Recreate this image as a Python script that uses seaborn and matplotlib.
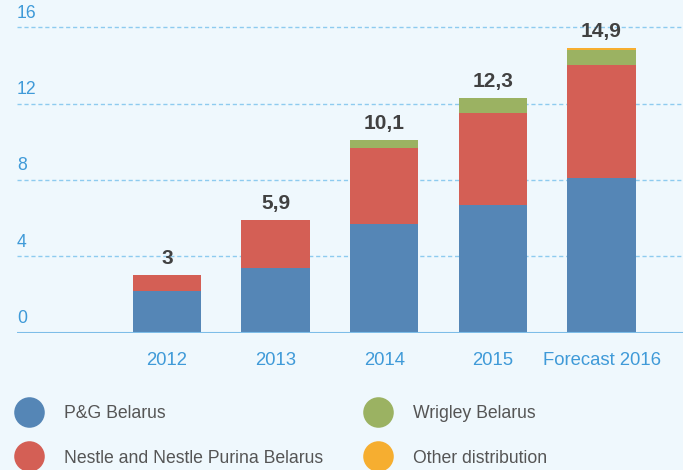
import numpy as np
import pandas as pd
import seaborn as sns
import matplotlib.pyplot as plt
from matplotlib.lines import Line2D

# данные (млрд руб.)
years = ['2012', '2013', '2014', '2015', 'Forecast 2016']
pg = [2.2, 3.4, 5.7, 6.7, 8.1]
nestle = [0.8, 2.5, 3.95, 4.8, 5.9]
wrigley = [0.0, 0.0, 0.45, 0.8, 0.8]
other = [0.0, 0.0, 0.0, 0.0, 0.1]
totals = ['3', '5,9', '10,1', '12,3', '14,9']
yticks = [0, 4, 8, 12, 16]

names = ['P&G Belarus', 'Nestle and Nestle Purina Belarus', 'Wrigley Belarus', 'Other distribution']
colors = ['#5586b6', '#d45f55', '#9bb262', '#f6ae30']

BG = '#eff8fd'
TICK_C = '#3f9ad8'
GRID_C = '#8ecbef'

sns.set_style('white')
plt.rcParams['font.family'] = ['Liberation Sans', 'DejaVu Sans']

df = pd.DataFrame({'year': years, 'pg': pg, 'nestle': nestle, 'wrigley': wrigley, 'other': other})
layers = ['pg', 'nestle', 'wrigley', 'other']
cum = df[layers].cumsum(axis=1)

fig = plt.figure(figsize=(6.83, 4.70), dpi=100, facecolor=BG)
ax = fig.add_axes([17 / 683, 137.5 / 470, 666 / 683, 332.5 / 470])
ax.set_facecolor(BG)

# рисуем накопленные суммы сверху вниз, чтобы получить стек
for layer, col in reversed(list(zip(layers, colors))):
    sns.barplot(x=df['year'], y=cum[layer], order=years, color=col, saturation=1,
                width=0.63, linewidth=0, errorbar=None, ax=ax, zorder=3)

ax.set_xlim(-1.38, 4.75)
ax.set_ylim(0, 17.43)

# сетка
for v in yticks[1:]:
    ax.axhline(v, color=GRID_C, lw=1, ls=(0, (3, 2)), zorder=1)
ax.axhline(0, color='#7dbde8', lw=1.5, zorder=4)

ax.set_yticks([])
for v in yticks:
    ax.annotate(str(v), (0, v), xycoords=ax.get_yaxis_transform(), xytext=(0, 4),
                textcoords='offset points', ha='left', va='bottom', color=TICK_C, fontsize=12.7)

ax.tick_params(axis='x', length=0, pad=14, labelsize=13.3, labelcolor=TICK_C)
ax.set_xlabel('')
ax.set_ylabel('')
sns.despine(ax=ax, left=True, bottom=True)

# подписи итогов
tot = cum['other'].values
for i, t in enumerate(totals):
    ax.annotate(t, (i, tot[i]), xytext=(0, 5), textcoords='offset points', ha='center', va='bottom',
                fontsize=15, fontweight='bold', color='#414141')

# легенда — две колонки
def handle(c):
    return Line2D([], [], marker='o', ls='', markersize=22, markerfacecolor=c, markeredgewidth=0)

for col_idx, x0 in [(0, 15), (1, 364)]:
    idx = [2 * col_idx, 2 * col_idx + 1]
    fig.legend([handle(colors[k]) for k in idx], [names[k] for k in idx],
               loc='center left', bbox_to_anchor=(x0 / 683, 1 - 436 / 470),
               frameon=False, fontsize=12.7, labelcolor='#555555', handlelength=1.6,
               handletextpad=1.2, labelspacing=1.55, borderpad=0, borderaxespad=0)

fig.savefig('out.png', dpi=100, facecolor=BG)
